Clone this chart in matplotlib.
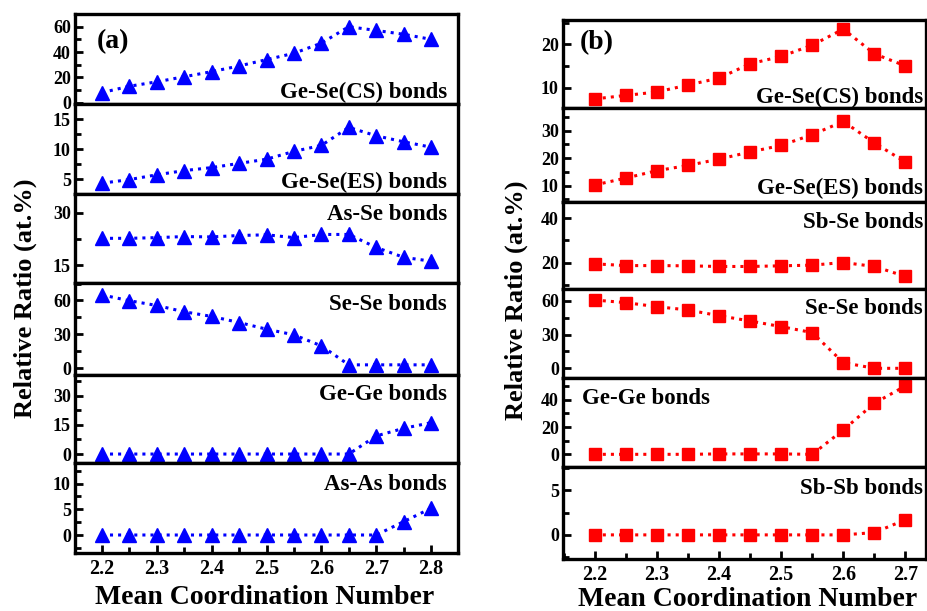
import matplotlib
matplotlib.use("Agg")
import matplotlib.pyplot as plt
from matplotlib.ticker import MultipleLocator

plt.rcParams['font.family'] = ['Liberation Serif', 'DejaVu Serif']
plt.rcParams['font.weight'] = 'bold'
plt.rcParams['mathtext.default'] = 'bf'

# mean coordination numbers
mcn_a = [2.2, 2.25, 2.3, 2.35, 2.4, 2.45, 2.5, 2.55, 2.6, 2.65, 2.7, 2.75, 2.8]
mcn_b = [2.2, 2.25, 2.3, 2.35, 2.4, 2.45, 2.5, 2.55, 2.6, 2.65, 2.7]

# (a) Ge-As-Se
gese_cs_a = [8, 13, 16.5, 20.5, 24.5, 29, 34, 39, 47, 60, 57, 54, 50]
gese_es_a = [4.3, 4.9, 5.7, 6.4, 6.9, 7.6, 8.3, 9.6, 10.6, 13.6, 12.2, 11.2, 10.3]
asse_a = [22.7, 22.7, 22.9, 23.2, 23.1, 23.5, 23.7, 22.9, 23.8, 23.8, 20.1, 17.3, 16.2]
sese_a = [65, 59.8, 55.6, 50, 45.9, 40.5, 34.6, 29.6, 19.8, 3, 3, 3, 3]
gege_a = [0, 0, 0, 0, 0, 0, 0, 0, 0, 0, 9.3, 13.2, 16.1]
asas_a = [0, 0, 0, 0, 0, 0, 0, 0, 0, 0, 0, 2.6, 5.2]

# (b) Ge-Sb-Se
gese_cs_b = [7.4, 8.2, 9.0, 10.6, 12.2, 15.5, 17.2, 19.8, 23.5, 17.8, 15.0]
gese_es_b = [10.2, 12.7, 15.4, 17.3, 19.6, 22.2, 24.6, 28.5, 33.3, 25.5, 18.5]
sbse_b = [19.4, 18.6, 18.6, 18.5, 18.2, 18.2, 18.5, 18.8, 20.0, 18.2, 13.7]
sese_b = [60.6, 58.3, 54.7, 51.8, 46.7, 42.0, 37.0, 31.7, 5.0, 0, 0]
gege_b = [0, 0, 0, 0, 0.3, 0.3, 0.3, 0, 17.9, 37.5, 50.2]
sbsb_b = [0, 0, 0, 0, 0, 0, 0, 0, 0, 0.26, 1.7]

W, H = 928, 611
fig = plt.figure(figsize=(W / 100, H / 100), dpi=100)


def add_panel(x0, x1, y0, y1):
    # pixel box -> figure fraction
    return fig.add_axes([x0 / W, 1 - y1 / H, (x1 - x0) / W, (y1 - y0) / H])


def style(ax, ylim, major, minor, xlim, bottom):
    ax.set_ylim(*ylim)
    ax.set_xlim(*xlim)
    ax.yaxis.set_major_locator(MultipleLocator(major))
    ax.yaxis.set_minor_locator(MultipleLocator(minor))
    ax.xaxis.set_major_locator(MultipleLocator(0.1))
    ax.xaxis.set_minor_locator(MultipleLocator(0.05))
    for s in ax.spines.values():
        s.set_linewidth(2.4)
    ax.tick_params(axis='y', which='both', direction='in', width=2,
                   labelsize=13, pad=3, right=False)
    ax.tick_params(axis='y', which='major', length=6)
    ax.tick_params(axis='y', which='minor', length=4)
    ax.tick_params(axis='x', which='both', direction='in', width=2,
                   top=False, bottom=bottom, labelbottom=bottom,
                   labelsize=14.5, pad=4)
    ax.tick_params(axis='x', which='major', length=6)
    ax.tick_params(axis='x', which='minor', length=4)


left_rows = [(14, 104), (104, 194), (194, 283), (283, 375), (375, 463), (463, 553)]
right_rows = [(20, 108), (108, 202), (202, 289), (289, 378), (378, 467), (467, 559)]

left_data = [gese_cs_a, gese_es_a, asse_a, sese_a, gege_a, asas_a]
left_lims = [(-1, 70), (2.5, 17.5), (10, 35.3), (-6, 75.5), (-4.6, 40.6), (-3.5, 14)]
left_ticks = [(20, 10), (5, 2.5), (15, 7.5), (30, 15), (15, 7.5), (5, 2.5)]
left_names = ['Ge-Se(CS) bonds', 'Ge-Se(ES) bonds', 'As-Se bonds',
              'Se-Se bonds', 'Ge-Ge bonds', 'As-As bonds']
left_text_y = [92, 182, 215, 305, 395, 485]

right_data = [gese_cs_b, gese_es_b, sbse_b, sese_b, gege_b, sbsb_b]
right_lims = [(5.3, 25.6), (4, 38.2), (8, 47.4), (-8.6, 70.4), (-9.3, 56), (-2.7, 7.6)]
right_ticks = [(10, 5), (10, 5), (20, 10), (30, 15), (20, 10), (5, 2.5)]
right_names = ['Ge-Se(CS) bonds', 'Ge-Se(ES) bonds', 'Sb-Se bonds',
               'Se-Se bonds', 'Ge-Ge bonds', 'Sb-Sb bonds']
right_text_y = [97, 188, 222, 308, 398, 488]

for i, (y0, y1) in enumerate(left_rows):
    ax = add_panel(75, 458, y0, y1)
    ax.plot(mcn_a, left_data[i], ls=':', lw=2.2, color='#0000ff',
            marker='^', ms=10, mec='#0000ff', mfc='#0000ff')
    style(ax, left_lims[i], *left_ticks[i], (2.151, 2.849), i == 5)
    fig.text(447 / W, 1 - left_text_y[i] / H, left_names[i], ha='right',
             va='center', fontsize=16.5, fontweight='bold')

for i, (y0, y1) in enumerate(right_rows):
    ax = add_panel(563, 926, y0, y1)
    ax.plot(mcn_b, right_data[i], ls=':', lw=2.2, color='#ff0000',
            marker='s', ms=9, mec='#ff0000', mfc='#ff0000')
    style(ax, right_lims[i], *right_ticks[i], (2.149, 2.733), i == 5)
    if right_names[i] == 'Ge-Ge bonds':
        fig.text(582 / W, 1 - right_text_y[i] / H, right_names[i], ha='left',
                 va='center', fontsize=16.5, fontweight='bold')
    else:
        fig.text(923 / W, 1 - right_text_y[i] / H, right_names[i], ha='right',
                 va='center', fontsize=16.5, fontweight='bold')

fig.text(97 / W, 1 - 42 / H, '(a)', ha='left', va='center', fontsize=20,
         fontweight='bold')
fig.text(580 / W, 1 - 43 / H, '(b)', ha='left', va='center', fontsize=20,
         fontweight='bold')
fig.text(25 / W, 1 - 298 / H, 'Relative Ratio (at.%)', rotation=90,
         ha='center', va='center', fontsize=19, fontweight='bold')
fig.text(516 / W, 1 - 300 / H, 'Relative Ratio (at.%)', rotation=90,
         ha='center', va='center', fontsize=19, fontweight='bold')
fig.text(265 / W, 1 - 597 / H, 'Mean Coordination Number', ha='center',
         va='center', fontsize=20, fontweight='bold')
fig.text(748 / W, 1 - 600 / H, 'Mean Coordination Number', ha='center',
         va='center', fontsize=20, fontweight='bold')

fig.savefig('out.png', dpi=100)
